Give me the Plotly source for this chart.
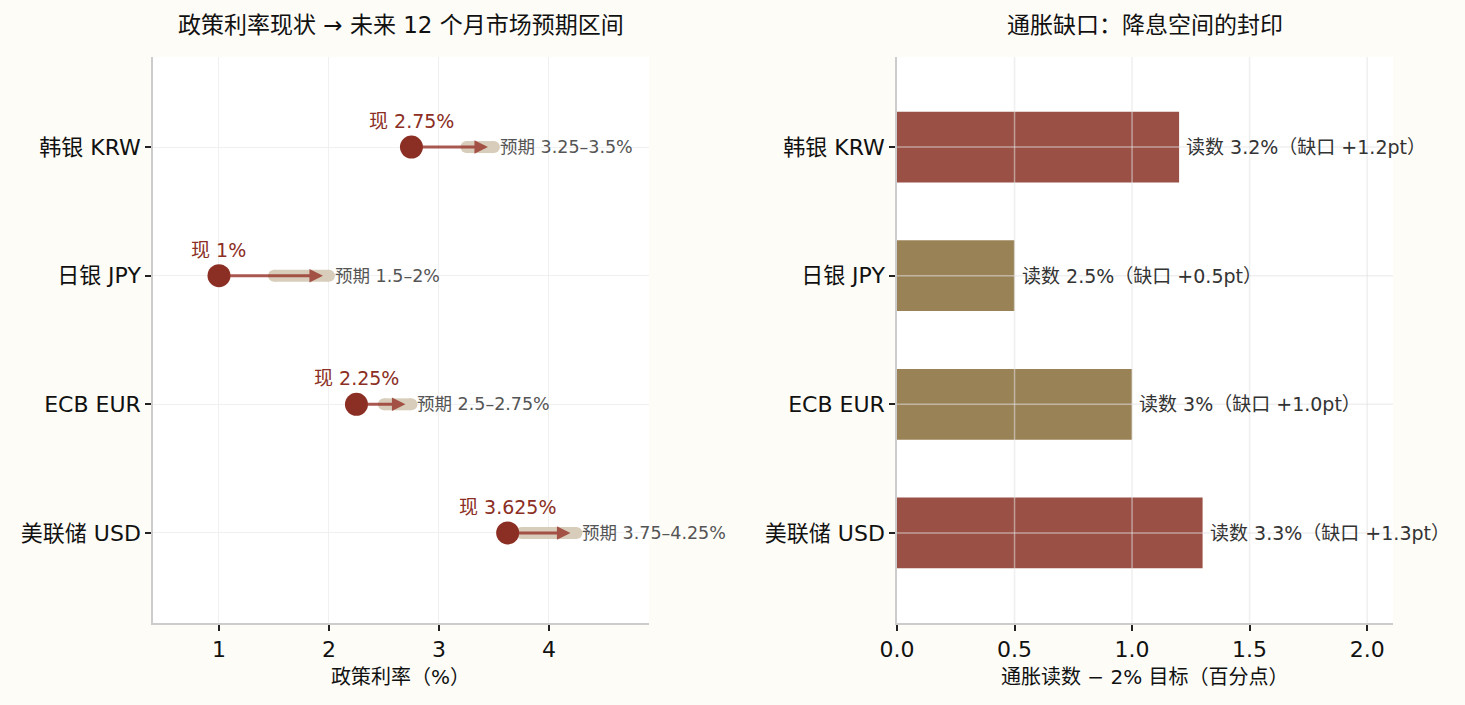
import plotly.graph_objects as go
from plotly.subplots import make_subplots

# data, bottom to top
banks = ['美联储 USD', 'ECB EUR', '日银 JPY', '韩银 KRW']
rate_now = [3.625, 2.25, 1.0, 2.75]
exp_lo = [3.75, 2.5, 1.5, 3.25]
exp_hi = [4.25, 2.75, 2.0, 3.5]
cpi_read = [3.3, 3.0, 2.5, 3.2]
cpi_target = 2.0
gap_ticks = [0.0, 0.5, 1.0, 1.5, 2.0]

FONT = 'DejaVu Sans, Noto Sans CJK SC, sans-serif'
DOT = '#8b2e23'
BAND = '#d8cdbb'
RED_BAR = '#9a5044'
TAN_BAR = '#9a8257'
GRID_OVER = 'rgba(225,225,225,0.55)'

ypos = list(range(len(banks)))
gaps = [round(r - cpi_target, 2) for r in cpi_read]

fig = make_subplots(rows=1, cols=2)

# expected range bands
for i in ypos:
    fig.add_trace(go.Scatter(
        x=[exp_lo[i], exp_hi[i]], y=[i, i], mode='lines+markers',
        line=dict(color=BAND, width=12),
        marker=dict(color=BAND, size=12, line=dict(width=0)),
        hoverinfo='skip', showlegend=False), row=1, col=1)

# current rate dots
fig.add_trace(go.Scatter(
    x=rate_now, y=ypos, mode='markers',
    marker=dict(color=DOT, size=23, line=dict(width=0)),
    showlegend=False), row=1, col=1)

# inflation gap bars
fig.add_trace(go.Bar(
    x=gaps, y=ypos, orientation='h', width=0.55,
    marker=dict(color=[RED_BAR if g > 1.0 else TAN_BAR for g in gaps], line=dict(width=0)),
    showlegend=False), row=1, col=2)

ann = []
for i in ypos:
    # arrow now -> upper end of expectation
    ann.append(dict(x=exp_hi[i], y=i, ax=rate_now[i], ay=i, xref='x', yref='y',
                    axref='x', ayref='y', text='', showarrow=True, arrowhead=2,
                    arrowsize=0.9, arrowwidth=3, arrowcolor='rgba(150,50,40,0.8)',
                    standoff=6, startstandoff=8))
    ann.append(dict(x=rate_now[i], y=i, xref='x', yref='y', text=f'现 {rate_now[i]:g}%',
                    showarrow=False, yshift=26, font=dict(size=19, color=DOT)))
    ann.append(dict(x=exp_hi[i], y=i, xref='x', yref='y', xanchor='left',
                    text=f'预期 {exp_lo[i]:g}–{exp_hi[i]:g}%', showarrow=False, xshift=4,
                    font=dict(size=17.5, color='#555555')))
    ann.append(dict(x=gaps[i], y=i, xref='x2', yref='y2', xanchor='left',
                    text=f'读数 {cpi_read[i]:g}%（缺口 +{gaps[i]:.1f}pt）', showarrow=False,
                    xshift=5, font=dict(size=19, color='#333333')))

L_DOM = [153 / 1465, 649 / 1465]
R_DOM = [897 / 1465, 1393 / 1465]
Y_DOM = [1 - 623 / 705, 1 - 57 / 705]

# panel titles and axis titles
for dom, txt, yy, size in [
        (L_DOM, '政策利率现状 → 未来 12 个月市场预期区间', 1 - 25 / 705, 23),
        (R_DOM, '通胀缺口：降息空间的封印', 1 - 25 / 705, 23),
        (L_DOM, '政策利率（%）', 1 - 677 / 705, 20),
        (R_DOM, '通胀读数 − 2% 目标（百分点）', 1 - 677 / 705, 20)]:
    ann.append(dict(x=sum(dom) / 2, y=yy, xref='paper', yref='paper', showarrow=False,
                    text=txt, xanchor='center', yanchor='middle',
                    font=dict(size=size, color='#111111')))

# right panel grid drawn on top of the bars
shapes = []
for t in gap_ticks[1:]:
    shapes.append(dict(type='line', xref='x2', yref='y2 domain', x0=t, x1=t, y0=0, y1=1,
                       line=dict(color=GRID_OVER, width=1.5), layer='above'))
for i in ypos:
    shapes.append(dict(type='line', xref='x2 domain', yref='y2', x0=0, x1=1, y0=i, y1=i,
                       line=dict(color=GRID_OVER, width=1.5), layer='above'))

axis_common = dict(showline=True, linecolor='#cccccc', linewidth=1.5, ticks='outside',
                   tickcolor='#222222', ticklen=6, tickwidth=1.5, zeroline=False,
                   automargin=False, tickfont=dict(size=22, color='#111111'))

fig.update_xaxes(domain=L_DOM, range=[0.4, 4.91], dtick=1,
                 gridcolor='#f0f0f0', **axis_common, row=1, col=1)
fig.update_xaxes(domain=R_DOM, range=[0, 2.11], tickvals=gap_ticks, tickformat='.1f',
                 showgrid=False, layer='above traces', **axis_common, row=1, col=2)
fig.update_yaxes(domain=Y_DOM, range=[-0.7, 3.7], tickvals=ypos, ticktext=banks,
                 gridcolor='#f0f0f0', **axis_common, row=1, col=1)
fig.update_yaxes(domain=Y_DOM, range=[-0.7, 3.7], tickvals=ypos, ticktext=banks,
                 showgrid=False, layer='above traces', **axis_common, row=1, col=2)

fig.update_layout(
    width=1465, height=705,
    margin=dict(l=0, r=0, t=0, b=0),
    paper_bgcolor='#fdfcf7', plot_bgcolor='#ffffff',
    font=dict(family=FONT),
    annotations=ann, shapes=shapes,
)

fig.write_html('out.html', config={'displayModeBar': False},
               post_script="document.body.style.margin='0';"
                           "document.body.style.background='#fdfcf7';")
